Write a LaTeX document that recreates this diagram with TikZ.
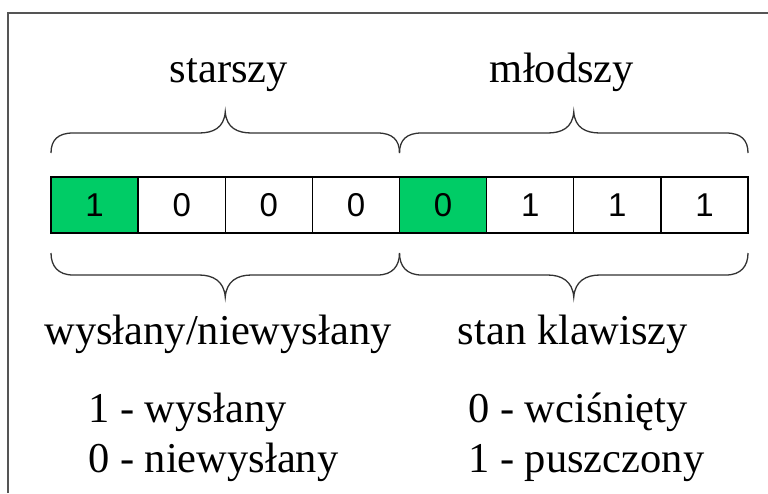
\documentclass[tikz,border=0pt]{standalone}
\usepackage{fontspec}
\setmainfont{Liberation Serif}
\newfontfamily\cellfont{Liberation Sans}
\definecolor{bitgreen}{RGB}{0,204,102}
\definecolor{framegray}{RGB}{85,85,85}
\definecolor{bracegray}{RGB}{50,50,50}
\begin{document}
\begin{tikzpicture}[x=1pt,y=-1pt,
  cell/.style={draw=black,line width=1.4pt,minimum width=87.125pt,minimum height=56pt,inner sep=0pt,
    font=\cellfont\fontsize{33}{33}\selectfont},
  onbit/.style={cell,fill=bitgreen},
  lbl/.style={inner sep=0pt,font=\fontsize{42.5}{42.5}\selectfont},
  bracepath/.style={draw=bracegray,line width=1.3pt}]
\useasboundingbox (0,0) rectangle (768,493);
\fill[white] (0,0) rectangle (768,493);
\draw[framegray,line width=1.6pt] (8,493) -- (8,13) -- (768,13);
% cells
\node[onbit] (c1) at (94.5625,205) {1};
\node[cell]  (c2) at (181.6875,205) {0};
\node[cell]  (c3) at (268.8125,205) {0};
\node[cell]  (c4) at (355.9375,205) {0};
\node[onbit] (c5) at (443.0625,205) {0};
\node[cell]  (c6) at (530.1875,205) {1};
\node[cell]  (c7) at (617.3125,205) {1};
\node[cell]  (c8) at (704.4375,205) {1};
% top braces
\coordinate (ta) at (51,153);
\coordinate (tb) at (399.5,153);
\coordinate (tc) at (748,153);
\draw[bracepath] (ta) .. controls (51,140) and (58,133) .. (73,133) -- (199,133)
  .. controls (213,133) and (224,128) .. (225.25,112)
  .. controls (226.5,128) and (237.5,133) .. (251.5,133) -- (377.5,133)
  .. controls (392.5,133) and (399.5,140) .. (tb);
\draw[bracepath] (tb) .. controls (399.5,140) and (406.5,133) .. (421.5,133) -- (547.5,133)
  .. controls (561.5,133) and (572.5,128) .. (573.75,112)
  .. controls (575,128) and (586,133) .. (600,133) -- (726,133)
  .. controls (741,133) and (748,140) .. (tc);
% bottom braces
\coordinate (ba) at (51,253);
\coordinate (bb) at (399.5,253);
\coordinate (bc) at (748,253);
\draw[bracepath] (ba) .. controls (51,266) and (58,275) .. (73,275) -- (199,275)
  .. controls (213,275) and (224,281) .. (225.25,297)
  .. controls (226.5,281) and (237.5,275) .. (251.5,275) -- (377.5,275)
  .. controls (392.5,275) and (399.5,266) .. (bb);
\draw[bracepath] (bb) .. controls (399.5,266) and (406.5,275) .. (421.5,275) -- (547.5,275)
  .. controls (561.5,275) and (572.5,281) .. (573.75,297)
  .. controls (575,281) and (586,275) .. (600,275) -- (726,275)
  .. controls (741,275) and (748,266) .. (bc);
% labels
\node[lbl,anchor=base] (old) at (229,82) {starszy};
\node[lbl,anchor=base] (young) at (562,82) {młodszy};
\node[lbl,anchor=base] (sent) at (218,344) {wysłany/niewysłany};
\node[lbl,anchor=base] (keys) at (573,344) {stan klawiszy};
\node[lbl,anchor=base west] (s1) at (88,422) {1 - wysłany};
\node[lbl,anchor=base west] (s0) at (88,472) {0 - niewysłany};
\node[lbl,anchor=base west] (k0) at (468,422) {0 - wciśnięty};
\node[lbl,anchor=base west] (k1) at (468,472) {1 - puszczony};
\end{tikzpicture}
\end{document}
